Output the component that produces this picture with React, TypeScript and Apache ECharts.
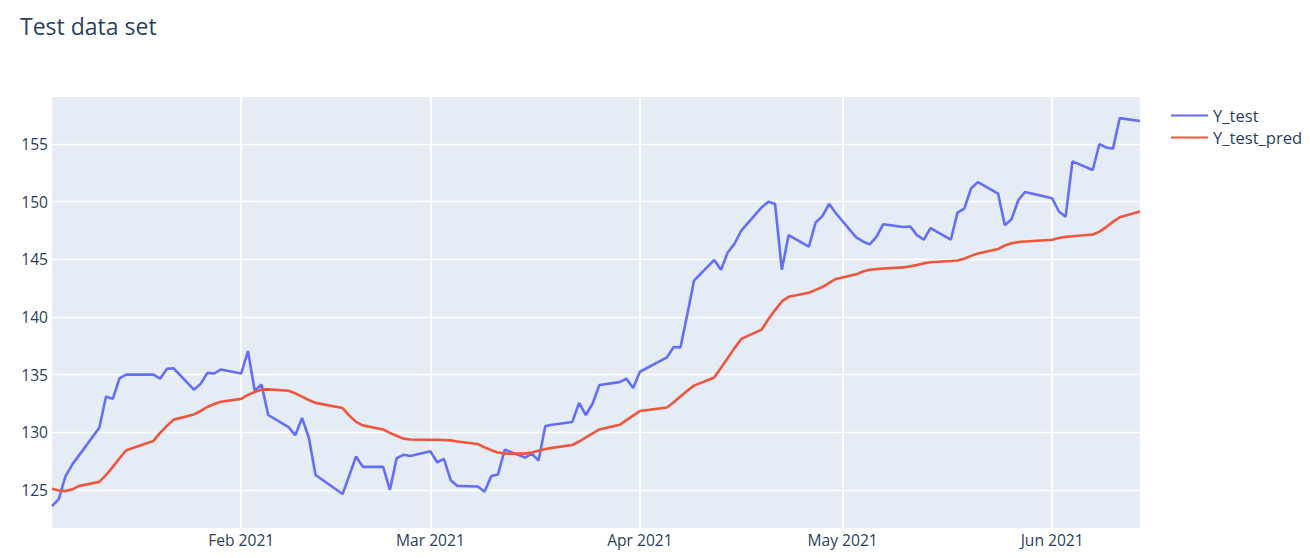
import React, { useEffect, useRef } from "react";
import * as echarts from "echarts";

const dates: string[] = [
  "2021-01-04","2021-01-05","2021-01-06","2021-01-07","2021-01-08",
  "2021-01-11","2021-01-12","2021-01-13","2021-01-14","2021-01-15",
  "2021-01-19","2021-01-20","2021-01-21","2021-01-22",
  "2021-01-25","2021-01-26","2021-01-27","2021-01-28","2021-01-29",
  "2021-02-01","2021-02-02","2021-02-03","2021-02-04","2021-02-05",
  "2021-02-08","2021-02-09","2021-02-10","2021-02-11","2021-02-12",
  "2021-02-16","2021-02-17","2021-02-18","2021-02-19",
  "2021-02-22","2021-02-23","2021-02-24","2021-02-25","2021-02-26",
  "2021-03-01","2021-03-02","2021-03-03","2021-03-04","2021-03-05",
  "2021-03-08","2021-03-09","2021-03-10","2021-03-11","2021-03-12",
  "2021-03-15","2021-03-16","2021-03-17","2021-03-18","2021-03-19",
  "2021-03-22","2021-03-23","2021-03-24","2021-03-25","2021-03-26",
  "2021-03-29","2021-03-30","2021-03-31","2021-04-01",
  "2021-04-05","2021-04-06","2021-04-07","2021-04-08","2021-04-09",
  "2021-04-12","2021-04-13","2021-04-14","2021-04-15","2021-04-16",
  "2021-04-19","2021-04-20","2021-04-21","2021-04-22","2021-04-23",
  "2021-04-26","2021-04-27","2021-04-28","2021-04-29","2021-04-30",
  "2021-05-03","2021-05-04","2021-05-05","2021-05-06","2021-05-07",
  "2021-05-10","2021-05-11","2021-05-12","2021-05-13","2021-05-14",
  "2021-05-17","2021-05-18","2021-05-19","2021-05-20","2021-05-21",
  "2021-05-24","2021-05-25","2021-05-26","2021-05-27","2021-05-28",
  "2021-06-01","2021-06-02","2021-06-03","2021-06-04",
  "2021-06-07","2021-06-08","2021-06-09","2021-06-10","2021-06-11",
  "2021-06-14",
];

const yTest: number[] = [
  123.6, 124.2, 126.2, 127.2, 128.0,
  130.4, 133.1, 132.9, 134.7, 135.0,
  135.0, 134.65, 135.5, 135.55,
  133.7, 134.2, 135.15, 135.1, 135.45,
  135.1, 137.05, 133.6, 134.15, 131.5,
  130.45, 129.75, 131.25, 129.55, 126.3,
  124.65, 126.26, 127.9, 127.0,
  127.0, 125.0, 127.75, 128.05, 127.95,
  128.35, 127.4, 127.7, 125.85, 125.35,
  125.3, 124.85, 126.2, 126.35, 128.5,
  127.8, 128.15, 127.55, 130.55, 130.65,
  130.9, 132.55, 131.5, 132.5, 134.1,
  134.35, 134.65, 133.85, 135.25,
  136.5, 137.4, 137.35, 140.2, 143.15,
  144.95, 144.1, 145.6, 146.35, 147.5,
  149.5, 150.0, 149.8, 144.1, 147.1,
  146.1, 148.2, 148.75, 149.8, 149.0,
  146.9, 146.55, 146.3, 146.95, 148.05,
  147.8, 147.85, 147.1, 146.7, 147.7,
  146.7, 149.05, 149.4, 151.15, 151.7,
  150.7, 147.95, 148.5, 150.15, 150.85,
  150.3, 149.15, 148.7, 153.5,
  152.75, 155.0, 154.7, 154.6, 157.25,
  157.0,
];

const yTestPred: number[] = [
  125.1, 124.95, 124.9, 125.05, 125.35,
  125.7, 126.3, 127.0, 127.75, 128.45,
  129.25, 129.95, 130.55, 131.1,
  131.55, 131.85, 132.2, 132.45, 132.65,
  132.9, 133.25, 133.5, 133.7, 133.72,
  133.6, 133.38, 133.1, 132.8, 132.55,
  132.1, 131.45, 130.9, 130.6,
  130.25, 129.95, 129.7, 129.45, 129.38,
  129.35, 129.35, 129.33, 129.3, 129.2,
  128.98, 128.7, 128.45, 128.25, 128.15,
  128.15, 128.25, 128.4, 128.55, 128.65,
  128.9, 129.2, 129.55, 129.9, 130.25,
  130.65, 131.05, 131.45, 131.85,
  132.15, 132.6, 133.1, 133.6, 134.05,
  134.75, 135.6, 136.45, 137.3, 138.1,
  138.9, 139.8, 140.6, 141.35, 141.75,
  142.1, 142.35, 142.6, 142.95, 143.3,
  143.7, 143.95, 144.1, 144.15, 144.2,
  144.3, 144.4, 144.5, 144.65, 144.75,
  144.85, 144.9, 145.05, 145.3, 145.5,
  145.9, 146.2, 146.4, 146.5, 146.55,
  146.7, 146.85, 146.95, 147.0,
  147.15, 147.4, 147.8, 148.25, 148.65,
  149.15,
];

const seriesNames: string[] = ["Y_test", "Y_test_pred"];
const monthNames: string[] = ["Jan", "Feb", "Mar", "Apr", "May", "Jun", "Jul", "Aug", "Sep", "Oct", "Nov", "Dec"];
const xStart = "2021-01-04";
const xEnd = "2021-06-14";
const yMin = 121.7;
const yMax = 159.08;

const toTime = (s: string): number => {
  const [y, m, d] = s.split("-").map(Number);
  return new Date(y, m - 1, d).getTime();
};

const FONT = "Open Sans, verdana, arial, sans-serif";
const TEXT = "#2a3f5f";
const DAY = 86400000;

export default function App() {
  const ref = useRef<HTMLDivElement>(null);
  useEffect(() => {
    if (!ref.current) return;
    const chart = echarts.init(ref.current, undefined, { renderer: "svg" });
    chart.setOption({
      animation: false,
      backgroundColor: "#ffffff",
      title: {
        text: "Test data set",
        left: 20,
        top: 14,
        padding: 0,
        textStyle: { fontFamily: FONT, fontSize: 23, fontWeight: "normal", color: TEXT },
      },
      legend: {
        orient: "vertical",
        left: 1170,
        top: 107,
        padding: 0,
        itemWidth: 37,
        itemHeight: 14,
        itemGap: 5,
        itemStyle: { opacity: 0 },
        textStyle: { fontFamily: FONT, fontSize: 16.6, color: TEXT },
        data: seriesNames,
      },
      grid: { left: 52, top: 97, width: 1088, height: 431, containLabel: false, show: true, backgroundColor: "#E5ECF6", borderWidth: 0 },
      xAxis: {
        type: "time",
        min: toTime(xStart),
        max: toTime(xEnd),
        splitNumber: 5,
        minInterval: 28 * DAY,
        maxInterval: 31 * DAY,
        axisLine: { show: false },
        axisTick: { show: false },
        axisLabel: {
          margin: 4,
          fontFamily: FONT,
          fontSize: 15.6,
          color: TEXT,
          hideOverlap: false,
          formatter: (v: number) => {
            const d = new Date(v);
            return d.getDate() === 1 ? `${monthNames[d.getMonth()]} ${d.getFullYear()}` : "";
          },
        },
        splitLine: { show: true, showMinLine: false, showMaxLine: false, lineStyle: { color: "#ffffff", width: 2 } },
      },
      yAxis: {
        type: "value",
        min: yMin,
        max: yMax,
        splitNumber: 7,
        axisLine: { show: false },
        axisTick: { show: false },
        axisLabel: {
          margin: 4,
          fontFamily: FONT,
          fontSize: 15.6,
          color: TEXT,
          formatter: (v: number) => (Math.abs(v / 5 - Math.round(v / 5)) < 1e-6 ? String(Math.round(v)) : ""),
        },
        splitLine: { show: true, showMinLine: false, showMaxLine: false, lineStyle: { color: "#ffffff", width: 1.3 } },
      },
      series: [
        {
          name: seriesNames[0],
          type: "line",
          symbol: "none",
          data: dates.map((d, i) => [toTime(d), yTest[i]]),
          lineStyle: { color: "#636EFA", width: 2.6 },
          itemStyle: { color: "#636EFA" },
        },
        {
          name: seriesNames[1],
          type: "line",
          symbol: "none",
          data: dates.map((d, i) => [toTime(d), yTestPred[i]]),
          lineStyle: { color: "#EF553B", width: 2.6 },
          itemStyle: { color: "#EF553B" },
        },
      ],
    });
    return () => chart.dispose();
  }, []);
  return <div ref={ref} style={{ position: "absolute", left: 0, top: 0, width: 1310, height: 558 }} />;
}
